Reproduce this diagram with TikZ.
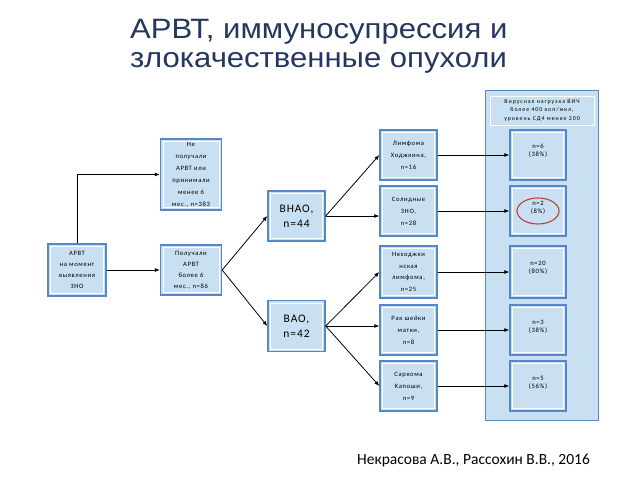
\documentclass[tikz,border=0pt]{standalone}
\usepackage{fontspec}
\setmainfont{Carlito}
\newfontfamily\boxfont[LetterSpace=10]{Carlito}
\newfontfamily\hdrfont[LetterSpace=16]{Carlito}
\newfontfamily\bigfont[LetterSpace=8]{Carlito}
\newfontfamily\titlefont[FakeStretch=1.11]{Liberation Sans}
\usetikzlibrary{arrows.meta,shapes.geometric}
\definecolor{boxfill}{RGB}{200,224,242}
\definecolor{bord}{RGB}{84,136,200}
\definecolor{titlecol}{RGB}{35,55,95}
\definecolor{ringred}{RGB}{192,60,60}
\tikzset{
  box/.style={draw=bord, line width=1.4pt, fill=boxfill, inner sep=0pt, align=center,
    font=\boxfont\fontsize{6.6}{12}\selectfont,
    path picture={\draw[white,line width=0.8pt]
      ([shift={(2.6,2.6)}]path picture bounding box.north west) rectangle
      ([shift={(-2.6,-2.6)}]path picture bounding box.south east);}},
  big/.style={box, font=\bigfont\fontsize{11.5}{15}\selectfont},
  res/.style={box},
  restext/.style={align=center, inner sep=0pt, font=\boxfont\fontsize{6.6}{8.3}\selectfont},
  arr/.style={draw=black, line width=0.8pt, -{Latex[length=5pt,width=4pt]}},
}
\begin{document}
\begin{tikzpicture}[x=1pt,y=-1pt]
\useasboundingbox (0,0) rectangle (638,479);
% title
\node[text=titlecol, font=\titlefont\fontsize{28}{29}\selectfont, align=left, anchor=base west, inner sep=0pt] (title) at (130,67)
  {АРВТ, иммуносупрессия и\\злокачественные опухоли};
% right panel
\node[draw=bord, line width=1pt, fill=boxfill, minimum width=113pt, minimum height=330pt, inner sep=0pt] (panel) at (541.5,255) {};
\node[draw=white, line width=0.8pt, fill=boxfill, minimum width=104pt, minimum height=29pt, inner sep=0pt, align=center,
  font=\hdrfont\fontsize{5.9}{8.4}\selectfont] (hdr) at (542,110.5)
  {Вирусная нагрузка ВИЧ\\более 400 коп/мкл,\\уровень СД4 менее 200};
% left boxes
\node[box, minimum width=58pt, minimum height=52pt, font=\boxfont\fontsize{6.6}{11}\selectfont] (A) at (77,270) {АРВТ\\на момент\\выявления\\ЗНО};
\node[box, minimum width=61pt, minimum height=71pt] (B) at (191,174.5) {Не\\получали\\АРВТ или\\принимали\\менее 6\\мес., n=383};
\node[box, minimum width=61pt, minimum height=50pt, font=\boxfont\fontsize{6.6}{11}\selectfont] (C) at (191,270) {Получали\\АРВТ\\более 6\\мес., n=86};
\node[big, minimum width=57pt, minimum height=50pt] (D) at (296.5,216) {ВНАО,\\n=44};
\node[big, minimum width=57pt, minimum height=51pt] (E) at (296.5,326) {ВАО,\\n=42};
% diagnoses
\node[box, minimum width=57pt, minimum height=50pt] (F1) at (408.5,155) {Лимфома\\Ходжкина,\\n=16};
\node[box, minimum width=57pt, minimum height=50pt] (F2) at (408.5,211) {Солидные\\ЗНО,\\n=28};
\node[box, minimum width=57pt, minimum height=52pt, font=\boxfont\fontsize{6.6}{11.6}\selectfont] (F3) at (408.5,272) {Неходжки\\нская\\лимфома,\\n=25};
\node[box, minimum width=57pt, minimum height=50pt] (F4) at (408.5,330) {Рак шейки\\матки,\\n=8};
\node[box, minimum width=57pt, minimum height=50pt] (F5) at (408.5,386) {Саркома\\Капоши,\\n=9};
% results
\node[res, minimum width=56pt, minimum height=50pt] (R1) at (538,155) {};
\node[res, minimum width=56pt, minimum height=50pt] (R2) at (538,211) {};
\node[res, minimum width=56pt, minimum height=52pt] (R3) at (538,272) {};
\node[res, minimum width=56pt, minimum height=50pt] (R4) at (538,330) {};
\node[res, minimum width=56pt, minimum height=50pt] (R5) at (538,386) {};
\node[restext] (t1) at (538,151) {n=6\\(38\%)};
\node[restext] (t2) at (538,208) {n=2\\(8\%)};
\node[restext] (t3) at (538,268) {n=20\\(80\%)};
\node[restext] (t4) at (538,327) {n=3\\(38\%)};
\node[restext] (t5) at (538,383) {n=5\\(56\%)};
\node[draw=ringred, line width=1.1pt, ellipse, minimum width=42pt, minimum height=26pt, inner sep=0pt] (ring) at (538,211) {};
% connectors
\draw[arr] (A.north) |- (B.west);
\draw[arr] (A.east) -- (A.east -| C.west);
\draw[arr] (C.east) -- (D.west);
\draw[arr] (C.east) -- (E.west);
\draw[arr] (D.east) -- (F1.west);
\draw[arr] (D.east) -- (D.east -| F2.west);
\draw[arr] (E.east) -- (F3.west);
\draw[arr] (E.east) -- (E.east -| F4.west);
\draw[arr] (E.east) -- (F5.west);
\draw[arr] (F1.east) -- (R1.west);
\draw[arr] (F2.east) -- (R2.west);
\draw[arr] (F3.east) -- (R3.west);
\draw[arr] (F4.east) -- (R4.west);
\draw[arr] (F5.east) -- (R5.west);
% citation
\node[anchor=base west, font=\fontsize{15.5}{17}\selectfont, inner sep=0pt] (cite) at (357,464) {Некрасова А.В., Рассохин В.В., 2016};
\end{tikzpicture}
\end{document}
